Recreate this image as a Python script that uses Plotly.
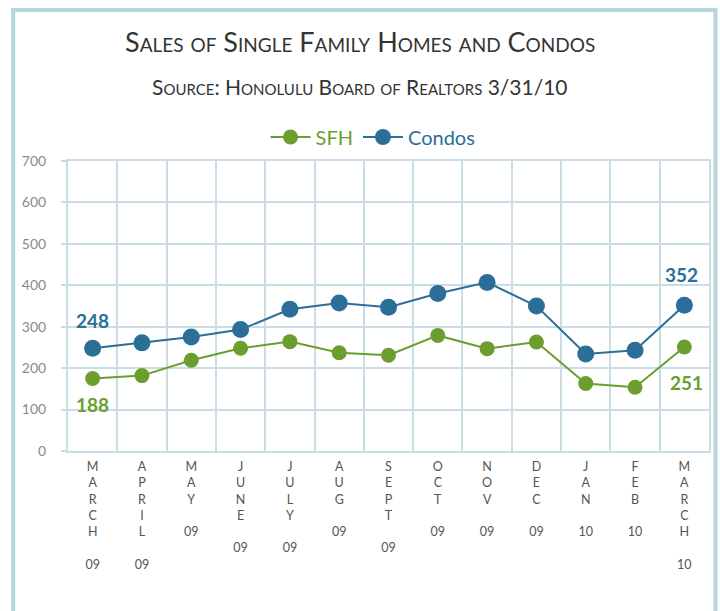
import plotly.graph_objects as go

# ---- data ----
months = ["MARCH", "APRIL", "MAY", "JUNE", "JULY", "AUG", "SEPT",
          "OCT", "NOV", "DEC", "JAN", "FEB", "MARCH"]
years = ["09", "09", "09", "09", "09", "09", "09", "09", "09", "09", "10", "10", "10"]
sfh = [175, 182, 219, 248, 264, 237, 231, 279, 247, 263, 163, 154, 251]
condos = [248, 261, 275, 293, 342, 357, 347, 380, 407, 350, 234, 243, 352]
sfh_end_labels = ["188", "251"]
condo_end_labels = ["248", "352"]
y_ticks = [0, 100, 200, 300, 400, 500, 600, 700]

# ---- style ----
GREEN = "#6b9e2e"
BLUE = "#2b6f98"
GRID = "#c9dde4"
BORDER = "#b7d3dc"
TICKGRAY = "#8a8a8a"
FONT = "Lato"

W, H = 720, 611
ML, MR, MT, MB = 68, 9, 161, 160
plot_w = W - ML - MR
plot_h = H - MT - MB

def px_to_paper_x(px):
    return (px - ML) / plot_w

def px_to_paper_y(py):
    return (H - MB - py) / plot_h

xs = list(range(len(months)))
ticktext = ["<br>".join(list(m)) + "<br><br>" + y for m, y in zip(months, years)]

fig = go.Figure()
fig.add_trace(go.Scatter(
    x=xs, y=sfh, mode="lines+markers",
    name="<span style='color:%s'>SFH</span>" % GREEN,
    line=dict(color=GREEN, width=2),
    marker=dict(color=GREEN, size=15),
))
fig.add_trace(go.Scatter(
    x=xs, y=condos, mode="lines+markers",
    name="<span style='color:%s'>Condos</span>" % BLUE,
    line=dict(color=BLUE, width=2),
    marker=dict(color=BLUE, size=17),
))

ann = []
# end-point value labels
ann.append(dict(x=xs[0], y=condos[0], text="<b>%s</b>" % condo_end_labels[0], yshift=28,
                font=dict(color=BLUE, size=19, family=FONT)))
ann.append(dict(x=xs[0], y=sfh[0], text="<b>%s</b>" % sfh_end_labels[0], yshift=-26,
                font=dict(color=GREEN, size=19, family=FONT)))
ann.append(dict(x=xs[-1], y=condos[-1], text="<b>%s</b>" % condo_end_labels[1], yshift=31,
                xshift=-3, font=dict(color=BLUE, size=19, family=FONT)))
ann.append(dict(x=xs[-1], y=sfh[-1], text="<b>%s</b>" % sfh_end_labels[1], yshift=-35,
                xshift=2, font=dict(color=GREEN, size=19, family=FONT)))
for a in ann:
    a.update(xref="x", yref="y", showarrow=False)

# titles
ann.append(dict(xref="paper", yref="paper", x=px_to_paper_x(361), y=px_to_paper_y(42),
                xanchor="center", yanchor="middle",
                text="Sales of Single Family Homes and Condos", showarrow=False,
                font=dict(family=FONT, size=27, color="#333333", variant="small-caps")))
ann.append(dict(xref="paper", yref="paper", x=px_to_paper_x(361), y=px_to_paper_y(87),
                xanchor="center", yanchor="middle",
                text="Source: Honolulu Board of Realtors 3/31/10", showarrow=False,
                font=dict(family=FONT, size=21, color="#333333", variant="small-caps")))

fig.update_layout(
    width=W, height=H,
    margin=dict(l=ML, r=MR, t=MT, b=MB),
    paper_bgcolor="white", plot_bgcolor="white",
    font=dict(family=FONT, color=TICKGRAY),
    annotations=ann,
    showlegend=True,
    legend=dict(orientation="h", xanchor="center", yanchor="middle",
                x=px_to_paper_x(374), y=px_to_paper_y(137),
                font=dict(size=20, family=FONT), itemwidth=40,
                bgcolor="rgba(0,0,0,0)"),
    shapes=[dict(type="rect", xref="paper", yref="paper",
                 x0=px_to_paper_x(13), x1=px_to_paper_x(717.5),
                 y0=px_to_paper_y(640), y1=px_to_paper_y(10),
                 line=dict(color=BORDER, width=4), layer="below")],
    xaxis=dict(
        range=[-0.5, len(months) - 0.5],
        tickmode="array", tickvals=xs, ticktext=ticktext,
        tickfont=dict(size=12.5, color="#555555", family=FONT),
        showgrid=False, zeroline=False,
        showline=True, linecolor=GRID, linewidth=2, mirror=True,
        ticks="", ticklabelstandoff=3,
        minor=dict(tickmode="array", tickvals=[i + 0.5 for i in xs[:-1]],
                   showgrid=True, gridcolor=GRID, gridwidth=2),
    ),
    yaxis=dict(
        range=[0, 700], tickmode="array", tickvals=y_ticks,
        tickfont=dict(size=14, color=TICKGRAY, family=FONT),
        showgrid=True, gridcolor=GRID, gridwidth=2, zeroline=False,
        showline=True, linecolor=GRID, linewidth=2, mirror=True,
        ticks="outside", ticklen=5, tickcolor=GRID, tickwidth=2,
        ticklabelstandoff=12,
    ),
)

fig.write_html("out.html",
               config={"displayModeBar": False},
               post_script="document.body.style.margin='0';document.body.style.padding='0';")
